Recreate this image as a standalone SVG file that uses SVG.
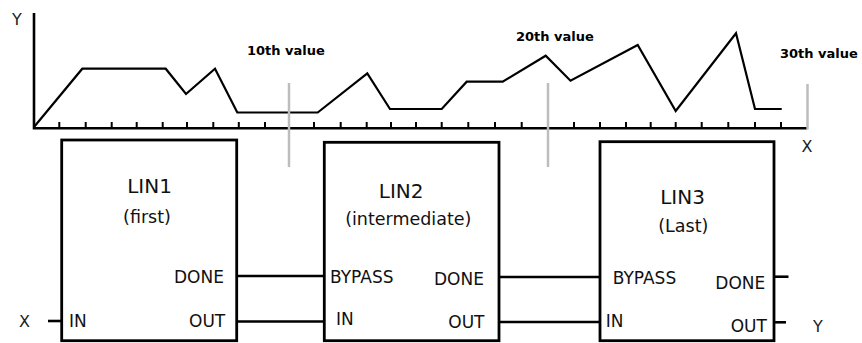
<svg xmlns="http://www.w3.org/2000/svg" width="862" height="343" viewBox="0 0 862 343">
<style>
.ax{stroke:#000;stroke-width:2.6;fill:none}
.tk{stroke:#000;stroke-width:2;fill:none}
.cv{stroke:#000;stroke-width:2.2;fill:none;stroke-linejoin:miter}
.gr{stroke:#bdbdbd;stroke-width:2.5}
.box{fill:#fff;stroke:#000;stroke-width:2.8}
.wire{stroke:#000;stroke-width:2.6;fill:none}
.bl{font-family:"DejaVu Sans",sans-serif;font-weight:bold;font-size:13px;fill:#000}
.ttl{font-family:"DejaVu Sans",sans-serif;font-size:20px;fill:#111;text-anchor:middle}
.sub{font-family:"DejaVu Sans",sans-serif;font-size:17.5px;fill:#111;text-anchor:middle}
.pt{font-family:"DejaVu Sans",sans-serif;font-size:17px;fill:#111}
.axl{font-family:"DejaVu Sans",sans-serif;font-size:16px;fill:#222}
</style>
<g id="chart">
<path class="ax" d="M34,13 V128.3 H807"/>
<path class="tk" d="M59.3,122V128M85.7,122V128M111.7,122V128M136.7,122V128M162.7,122V128M187,122V128M213.3,122V128M238.8,122V128M265,122V128M314,122V128M340.7,122V128M366.7,122V128M391,122V128M416,122V128M441.7,122V128M468.3,122V128M495,122V128M521.7,122V128M574,122V128M600,122V128M626,122V128M650.7,122V128M675.7,122V128M701.7,122V128M728.3,122V128M755,122V128M781,122V128"/>
<polyline class="cv" points="34,127 82.3,68.7 165.7,68.7 186,94 215,68.7 237.3,112.5 317.7,112.5 367.3,73.3 390,109 441.7,109 466.7,81.7 502.7,81.7 545.7,55.7 570.5,80.7 637.7,45 675.7,111 736,33.3 755,109 781.7,109"/>
<line class="gr" x1="289" y1="83" x2="289" y2="167"/>
<line class="gr" x1="548" y1="83" x2="548" y2="167"/>
<line class="gr" x1="807.5" y1="84" x2="807.5" y2="129.5"/>
<text class="bl" x="247" y="54.5">10th value</text>
<text class="bl" x="516" y="40.5">20th value</text>
<text class="bl" x="780" y="58">30th value</text>
<text class="axl" x="12" y="25">Y</text>
<text class="axl" x="801.5" y="152">X</text>
</g>
<g id="connectors">
<line class="wire" x1="48" y1="321" x2="62" y2="321"/>
<line class="wire" x1="236.7" y1="276" x2="324.3" y2="276"/>
<line class="wire" x1="236.7" y1="321.5" x2="324.3" y2="321.5"/>
<line class="wire" x1="499" y1="277" x2="600" y2="277"/>
<line class="wire" x1="499" y1="322" x2="600" y2="322"/>
<line class="wire" x1="774" y1="276.7" x2="788.5" y2="276.7"/>
<line class="wire" x1="774" y1="322.3" x2="786" y2="322.3"/>
</g>
<g id="LIN1">
<rect class="box" x="61.7" y="140" width="175" height="200.7"/>
<text class="ttl" x="149.5" y="193.3">LIN1</text>
<text class="sub" x="147" y="223.3">(first)</text>
<text class="pt" x="174" y="283.3">DONE</text>
<text class="pt" x="189" y="327.3">OUT</text>
<text class="pt" x="69" y="327.3">IN</text>
</g>
<text id="inX" class="axl" x="19" y="327.3">X</text>
<g id="LIN2">
<rect class="box" x="324.3" y="142.3" width="174.7" height="198.4"/>
<text class="ttl" x="401.2" y="197.7">LIN2</text>
<text class="sub" x="408.3" y="225">(intermediate)</text>
<text class="pt" x="330" y="282.7">BYPASS</text>
<text class="pt" x="434" y="285">DONE</text>
<text class="pt" x="336" y="325">IN</text>
<text class="pt" x="448.3" y="328.3">OUT</text>
</g>
<g id="LIN3">
<rect class="box" x="600" y="141.7" width="174" height="199"/>
<text class="ttl" x="682.5" y="204">LIN3</text>
<text class="sub" x="683.3" y="231.7">(Last)</text>
<text class="pt" x="612.7" y="284">BYPASS</text>
<text class="pt" x="715.3" y="289">DONE</text>
<text class="pt" x="605.7" y="326.7">IN</text>
<text class="pt" x="730.7" y="332.3">OUT</text>
</g>
<text id="outY" class="axl" x="813" y="331.7">Y</text>
</svg>
